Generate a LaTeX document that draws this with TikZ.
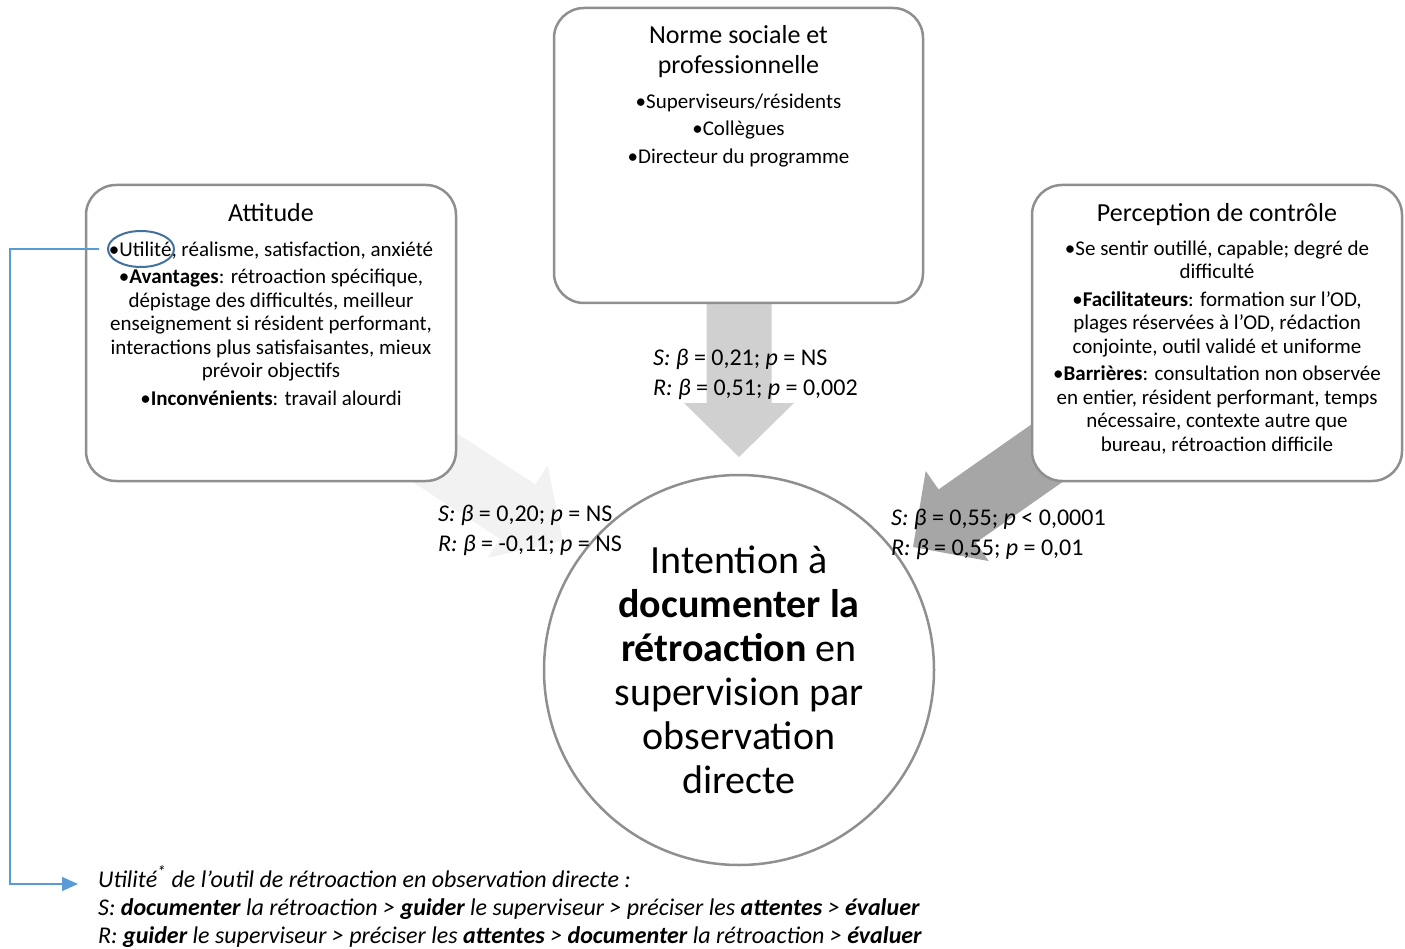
\documentclass[tikz,border=0pt]{standalone}
\usepackage{fontspec}
\setmainfont{Carlito}
\usetikzlibrary{positioning,arrows.meta,shapes.geometric}

\definecolor{bordgris}{HTML}{8F8F8F}
\definecolor{flecheclair}{HTML}{F2F2F2}
\definecolor{flechemoyen}{HTML}{D0D0D0}
\definecolor{flechefonce}{HTML}{A6A6A6}
\definecolor{lienbleu}{HTML}{5B9BD5}
\definecolor{cerclebleu}{HTML}{41719C}

\tikzset{
  boite/.style={draw=bordgris, line width=2.5pt, rounded corners=30pt, fill=white,
    minimum width=370pt, minimum height=296pt},
  titre/.style={font=\fontsize{26}{30}\selectfont, align=center, inner sep=0pt, anchor=north},
  corps/.style={font=\fontsize{21}{23.5}\selectfont, align=center, inner sep=0pt},
  stat/.style={font=\fontsize{24}{30}\selectfont, align=left, inner sep=0pt, anchor=north west},
  note/.style={font=\fontsize{24}{28}\selectfont\itshape, inner sep=0pt, anchor=base west},
}

\begin{document}
\begin{tikzpicture}[x=1pt, y=-1pt]
	\useasboundingbox (0,0) rectangle (1405,949);

	% Flèches vers l'intention
	\foreach \tx/\ty/\ang/\coul in {739/457/-90/flechemoyen, 563/541/-33/flecheclair, 913/547/-145/flechefonce} {
			\fill[\coul, shift={(\tx,\ty)}, rotate=\ang]
				(0,0) -- (-54,55) -- (-54,32.5) -- (-200,32.5) -- (-200,-32.5) -- (-54,-32.5) -- (-54,-55) -- cycle;
		}

	% Attitude
	\node[boite] (attitude) at (271,333) {};
	\node[titre] (attitudetitre) at ([yshift=-19pt]attitude.north) {Attitude};
	\node[corps, below=20pt of attitudetitre] (attitudecorps) {%
		•Utilité, réalisme, satisfaction, anxiété\\[4pt]
		•\textbf{Avantages}: rétroaction spécifique,\\
		dépistage des difficultés, meilleur\\
		enseignement si résident performant,\\
		interactions plus satisfaisantes, mieux\\
		prévoir objectifs\\[4pt]
		•\textbf{Inconvénients}: travail alourdi};
	\node[draw=cerclebleu, line width=2pt, ellipse, minimum width=66pt, minimum height=36pt] (utilite) at (141,249) {};

	% Norme sociale
	\node[boite, minimum width=369pt, minimum height=295pt] (norme) at (738.5,155.5) {};
	\node[titre] (normetitre) at ([yshift=-19pt]norme.north) {Norme sociale et\\professionnelle};
	\node[corps, below=15pt of normetitre] (normecorps) {%
		•Superviseurs/résidents\\[4pt]
		•Collègues\\[4pt]
		•Directeur du programme};

	% Perception de contrôle
	\node[boite] (controle) at (1217,333) {};
	\node[titre] (controletitre) at ([yshift=-19pt]controle.north) {Perception de contrôle};
	\node[corps, below=15pt of controletitre] (controlecorps) {%
		•Se sentir outillé, capable; degré de\\
		difficulté\\[4pt]
		•\textbf{Facilitateurs}: formation sur l’OD,\\
		plages réservées à l’OD, rédaction\\
		conjointe, outil validé et uniforme\\[4pt]
		•\textbf{Barrières}: consultation non observée\\
		en entier, résident performant, temps\\
		nécessaire, contexte autre que\\
		bureau, rétroaction difficile};

	% Intention
	\node[circle, draw=bordgris, line width=2.5pt, fill=white, minimum size=390pt, inner sep=0pt,
		align=center, font=\fontsize{40}{44}\selectfont] (intention) at (739,670)
		{Intention à\\\textbf{documenter la}\\\textbf{rétroaction} en\\supervision par\\observation\\directe};

	% Coefficients
	\node[stat] (statnorme) at (653,349) {\textit{S: β} = 0,21; \textit{p} = NS\\\textit{R: β} = 0,51; \textit{p} = 0,002};
	\node[stat] (statattitude) at (438,505) {\textit{S: β} = 0,20; \textit{p} = NS\\\textit{R: β} = -0,11; \textit{p} = NS};
	\node[stat] (statcontrole) at (891,509) {\textit{S: β} = 0,55; \textit{p} < 0,0001\\\textit{R: β} = 0,55; \textit{p} = 0,01};

	% Utilité de l'outil
	\node[note] (note1) at (98,887) {Utilité\textsuperscript{*} de l’outil de rétroaction en observation directe :};
	\node[note] (note2) at (98,915) {S: \textbf{documenter} la rétroaction > \textbf{guider} le superviseur > préciser les \textbf{attentes} > \textbf{évaluer}};
	\node[note] (note3) at (98,943) {R: \textbf{guider} le superviseur > préciser les \textbf{attentes} > \textbf{documenter} la rétroaction > \textbf{évaluer}};
	\coordinate (coin) at (10,884);
	\draw[lienbleu, line width=1.5pt, -{Triangle[width=14pt,length=16pt]}, shorten >=20pt]
		([xshift=-8pt]utilite.west) -| (coin) -- (coin -| note1.west);
\end{tikzpicture}
\end{document}
